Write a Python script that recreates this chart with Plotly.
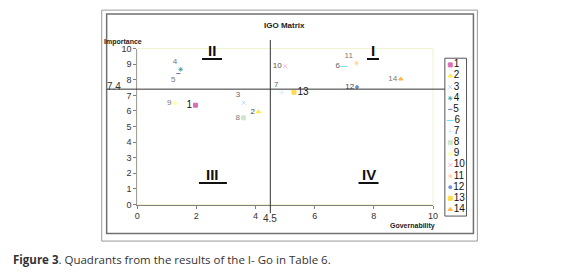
import plotly.graph_objects as go

# Data (IGO matrix)
series = ['1', '2', '3', '4', '5', '6', '7', '8', '9', '10', '11', '12', '13', '14']
governability = [1.97, 4.1, 3.6, 1.47, 1.39, 6.99, 4.89, 3.59, 1.28, 5.0, 7.41, 7.43, 5.3, 8.91]
importance = [6.37, 5.95, 6.53, 8.67, 8.4, 8.86, 7.2, 5.56, 6.5, 8.86, 9.07, 7.53, 7.2, 8.05]
x_ticks = [0, 2, 4, 6, 8, 10]
y_ticks = [0, 1, 2, 3, 4, 5, 6, 7, 8, 9, 10]
x_cut = 4.5
y_cut = 7.4
quadrants = [('I', 7.97, 9.85), ('II', 2.53, 9.85), ('III', 2.56, 1.9), ('IV', 7.82, 1.9)]

# Styling (Excel-2003 look)
colors = ['#CC3399', '#FFE000', '#99CCFF', '#339999', '#333399', '#33CCFF', '#CCE5FF',
          '#B8DDB8', '#FFFF88', '#FF99CC', '#FFCC99', '#3366CC', '#FFCC00', '#FF9900']
symbols = ['square', 'triangle-up', 'x-thin-open', 'asterisk-open', 'line-ew-open', 'line-ew-open',
           'cross-thin-open', 'square', 'triangle-up', 'x-thin-open', 'asterisk-open', 'circle',
           'square', 'triangle-up']
msizes = [4, 4, 4, 4, 3, 5, 4, 4, 4, 4, 4, 3, 4, 4]
label_pos = ['middle left', 'middle left', 'top left', 'top left', 'bottom left', 'middle left',
             'top left', 'middle left', 'middle left', 'middle left', 'top left', 'middle left',
             'middle right', 'middle left']
label_col = ['#111111', '#444444', '#666666', '#777777', '#777777', '#666666', '#666666',
             '#777777', '#777777', '#555555', '#777777', '#444444', '#111111', '#777777']
label_size = [10, 8, 8, 8, 8, 8, 8, 8, 8, 8, 8, 8, 10, 8]

# the page body adds an 8px margin, so the figure is drawn 8px in from the corner
OFF = 8
W, H = 580 - OFF, 274 - OFF
FONT = 'Liberation Sans, Arial, sans-serif'


def px(x):
    return (x - OFF) / W


def py(y):
    return 1 - (y - OFF) / H


fig = go.Figure()

fig.add_trace(go.Scatter(
    x=governability, y=importance, mode='markers+text',
    text=series, textposition=label_pos,
    textfont=dict(color=label_col, size=label_size, family=FONT),
    marker=dict(color=colors, symbol=symbols, size=msizes, line=dict(color=colors, width=1)),
    cliponaxis=False, showlegend=False, hoverinfo='x+y+text'))

# legend built on its own small axis
fig.add_trace(go.Scatter(
    x=[0.25] * len(series), y=list(range(1, len(series) + 1)), mode='markers+text',
    text=series, textposition='middle right',
    textfont=dict(color='#111111', size=10, family=FONT),
    marker=dict(color=colors, symbol=symbols, size=msizes, line=dict(color=colors, width=1)),
    xaxis='x2', yaxis='y2', cliponaxis=False, showlegend=False, hoverinfo='text'))

shapes = [
    # outer frames
    dict(type='rect', xref='paper', yref='paper', x0=px(100), x1=px(481), y0=py(5), y1=py(245),
         line=dict(color='#9a9a9a', width=1)),
    dict(type='rect', xref='paper', yref='paper', x0=px(105), x1=px(477), y0=py(9), y1=py(237),
         line=dict(color='#707070', width=1.5)),
    # faint plot-area border
    dict(type='rect', xref='paper', yref='paper', x0=px(136), x1=px(436), y0=py(207), y1=py(45),
         line=dict(color='#F2F2D0', width=1)),
    # cut lines
    dict(type='line', xref='paper', yref='y', x0=px(105), x1=px(448), y0=y_cut, y1=y_cut,
         line=dict(color='#333333', width=1)),
    dict(type='line', xref='x', yref='paper', x0=x_cut, x1=x_cut, y0=py(216), y1=py(36),
         line=dict(color='#333333', width=1)),
    # legend box
    dict(type='rect', xref='paper', yref='paper', x0=px(448), x1=px(470), y0=py(55), y1=py(219),
         line=dict(color='#555555', width=1), fillcolor='white', layer='below'),
]

annotations = [
    dict(text='<b>IGO Matrix</b>', x=px(285), y=py(21), font=dict(size=8, color='#222222')),
    dict(text='<b>Importance</b>', x=px(122), y=py(38), font=dict(size=7, color='#222222')),
    dict(text='<b>Governability</b>', x=px(415), y=py(229), font=dict(size=7, color='#222222')),
    dict(text=str(y_cut), x=px(112), y=py(84), font=dict(size=10, color='#333333')),
    dict(text=str(x_cut), x=px(271), y=py(222), font=dict(size=10, color='#333333')),
    dict(text='<b>Figure 3</b>. Quadrants from the results of the I- Go in Table 6.',
         x=px(OFF), y=py(264), xanchor='left', font=dict(size=11.5, color='#333333', family='Open Sans')),
]
for name, qx, qy in quadrants:
    annotations.append(dict(text='<b>%s</b>' % name, x=qx, y=qy, xref='x', yref='y',
                            font=dict(size=15, color='#111111')))
    w = 2 + 4 * len(name)
    shapes.append(dict(type='line', xref='x', yref='y', xsizemode='pixel', ysizemode='pixel',
                       xanchor=qx, yanchor=qy, x0=-w, x1=w, y0=-8, y1=-8,
                       line=dict(color='#111111', width=2)))

for a in annotations:
    a.setdefault('xref', 'paper')
    a.setdefault('yref', 'paper')
    a.setdefault('xanchor', 'center')
    a['yanchor'] = 'middle'
    a['showarrow'] = False
    a['font'].setdefault('family', FONT)

fig.update_layout(
    width=W, height=H, autosize=False,
    margin=dict(l=0, r=0, t=0, b=0),
    paper_bgcolor='white', plot_bgcolor='white',
    font=dict(family=FONT, color='#333333'),
    xaxis=dict(domain=[px(136), px(436)], range=[0, 10], tickvals=x_ticks,
               showgrid=False, zeroline=False, showline=True, linecolor='#808080',
               ticks='outside', ticklen=3, tickcolor='#808080', tickfont=dict(size=9, color='#333333')),
    yaxis=dict(domain=[py(207), py(45)], range=[0, 10], tickvals=y_ticks,
               showgrid=False, zeroline=False, showline=True, linecolor='#808080',
               ticks='outside', ticklen=3, tickcolor='#808080', tickfont=dict(size=9, color='#333333')),
    xaxis2=dict(domain=[px(448), px(470)], range=[0, 1], visible=False, anchor='y2'),
    yaxis2=dict(domain=[py(219), py(55)], range=[14.6, 0.4], visible=False, anchor='x2'),
    shapes=shapes, annotations=annotations,
)

fig.write_html("out.html")
